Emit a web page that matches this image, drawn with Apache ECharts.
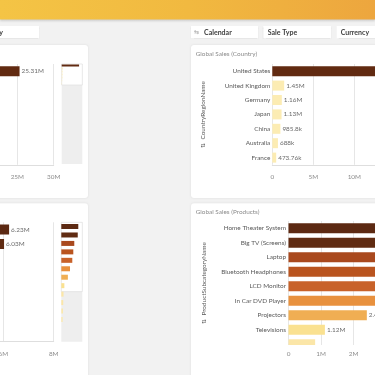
<!DOCTYPE html>
<html>
<head>
<meta charset="utf-8">
<script src="https://cdn.jsdelivr.net/npm/echarts@6/dist/echarts.min.js"></script>
<style>
html,body{margin:0;padding:0;background:#f2f2f2}
#chart{width:375px;height:375px}
</style>
</head>
<body>
<div id="chart"></div>
<script>
// data
var countries = ['United States', 'United Kingdom', 'Germany', 'Japan', 'China', 'Australia', 'France'];
var countrySales = [25310000, 1450000, 1160000, 1130000, 985800, 688000, 473760];
var products = ['Home Theater System', 'Big TV (Screens)', 'Laptop', 'Bluetooth Headphones', 'LCD Monitor',
    'In Car DVD Player', 'Projectors', 'Televisions', 'Camcorders', 'Digital Cameras', 'Desktops', 'Smart phones & PDAs'];
var productSales = [6230000, 6030000, 4760000, 4400000, 4030000, 3180000, 2410000, 1120000, 820000, 700000, 620000, 500000];
var filters = ['Calendar', 'Sale Type', 'Currency'];

// colours (gradient by measure)
var countryColors = ['#612a11', '#fcecb3', '#fcecb3', '#fcecb3', '#fcecb3', '#fcecb3', '#fcecb3'];
var productColors = ['#5c2912', '#602b12', '#a9491e', '#b9541f', '#c8622a', '#e8913e', '#f0ae53',
    '#fae190', '#fbe6a8', '#fbe6a8', '#fbe8ad', '#fbe8ad'];

var FONT = 'Lato, sans-serif';

function shortNum(v) {
    if (v >= 1e6) return parseFloat((v / 1e6).toFixed(2)) + 'M';
    if (v >= 1e3) return parseFloat((v / 1e3).toFixed(2)) + 'k';
    return String(v);
}
function tickFmt(v) {
    return v === 0 ? '0' : (v / 1e6) + 'M';
}

var gridLine = {show: true, lineStyle: {color: '#e6e6e6', width: 1}};
var axisText = {color: '#8c8c8c', fontSize: 6.4, fontFamily: FONT, formatter: tickFmt};
var noLine = {show: false};

function valueLabel(hideFrom) {
    return {
        show: true, position: 'right', distance: 2,
        color: '#6b6b6b', fontSize: 6.4, fontFamily: FONT,
        formatter: function (p) {
            if (hideFrom !== undefined && p.dataIndex >= hideFrom) return '';
            return shortNum(p.value);
        }
    };
}
function colorBy(list) {
    return function (p) { return list[p.dataIndex]; };
}
function box(g) {
    g.outerBoundsMode = 'none';
    g.containLabel = false;
    return g;
}

var chart = echarts.init(document.getElementById('chart'));

var graphics = [
    // header band
    {type: 'rect', z: 0, shape: {x: 0, y: 0, width: 375, height: 19.5},
        style: {fill: {type: 'linear', x: 0, y: 0, x2: 1, y2: 0,
            colorStops: [{offset: 0, color: '#f4c445'}, {offset: 0.5, color: '#f1b940'}, {offset: 1, color: '#eda63e'}]},
            shadowBlur: 2, shadowColor: 'rgba(0,0,0,0.15)', shadowOffsetY: 1}},
    // filter boxes
    {type: 'rect', z: 0, shape: {x: -10, y: 26, width: 49, height: 12.5},
        style: {fill: '#fff', shadowBlur: 1, shadowOffsetY: 0.5, shadowColor: 'rgba(0,0,0,0.15)'}},
    {type: 'text', z: 0, style: {x: 3, y: 32.3, text: 'Country', align: 'right', verticalAlign: 'middle',
        fill: '#404040', font: 'bold 7px ' + FONT}},
    {type: 'rect', z: 0, shape: {x: 191, y: 26, width: 67, height: 12.5},
        style: {fill: '#fff', shadowBlur: 1, shadowOffsetY: 0.5, shadowColor: 'rgba(0,0,0,0.15)'}},
    {type: 'text', z: 0, style: {x: 194, y: 32.3, text: '⇆', verticalAlign: 'middle', fill: '#a0a0a0', font: '6px DejaVu Sans'}},
    {type: 'text', z: 0, style: {x: 204, y: 32.3, text: filters[0], verticalAlign: 'middle', fill: '#404040', font: 'bold 7px ' + FONT}},
    {type: 'rect', z: 0, shape: {x: 263.3, y: 26, width: 67.7, height: 12.5},
        style: {fill: '#fff', shadowBlur: 1, shadowOffsetY: 0.5, shadowColor: 'rgba(0,0,0,0.15)'}},
    {type: 'text', z: 0, style: {x: 267.7, y: 32.3, text: filters[1], verticalAlign: 'middle', fill: '#404040', font: 'bold 7px ' + FONT}},
    {type: 'rect', z: 0, shape: {x: 336.7, y: 26, width: 50, height: 12.5},
        style: {fill: '#fff', shadowBlur: 1, shadowOffsetY: 0.5, shadowColor: 'rgba(0,0,0,0.15)'}},
    {type: 'text', z: 0, style: {x: 340.7, y: 32.3, text: filters[2], verticalAlign: 'middle', fill: '#404040', font: 'bold 7px ' + FONT}},
    // panels
    {type: 'rect', z: 0, shape: {x: -6, y: 45, width: 94, height: 153, r: 3},
        style: {fill: '#fff', shadowBlur: 2, shadowColor: 'rgba(0,0,0,0.1)'}},
    {type: 'rect', z: 0, shape: {x: -6, y: 203.3, width: 94, height: 180, r: 3},
        style: {fill: '#fff', shadowBlur: 2, shadowColor: 'rgba(0,0,0,0.1)'}},
    {type: 'rect', z: 0, shape: {x: 191, y: 45, width: 200, height: 153, r: 3},
        style: {fill: '#fff', shadowBlur: 2, shadowColor: 'rgba(0,0,0,0.1)'}},
    {type: 'rect', z: 0, shape: {x: 191, y: 203.3, width: 200, height: 180, r: 3},
        style: {fill: '#fff', shadowBlur: 2, shadowColor: 'rgba(0,0,0,0.1)'}},
    // mini chart tracks
    {type: 'rect', z: 0, shape: {x: 61.7, y: 64, width: 20.6, height: 100}, style: {fill: '#eeeeee'}},
    {type: 'rect', z: 0, shape: {x: 61.3, y: 222.3, width: 21, height: 119.4}, style: {fill: '#eeeeee'}},
    {type: 'rect', z: 0, shape: {x: 61.3, y: 222.3, width: 21, height: 69.3},
        style: {fill: '#fff', stroke: '#dcdcdc', lineWidth: 0.6}},
    // covers for the scrolled-out part of the product charts
    {type: 'rect', z: 5, shape: {x: 0, y: 341.6, width: 58, height: 40}, style: {fill: '#fff'}},
    {type: 'rect', z: 5, shape: {x: 191, y: 345, width: 190, height: 40}, style: {fill: '#fff'}}
];

var option = {
    backgroundColor: '#f2f2f2',
    animation: false,
    title: [
        {text: 'Global Sales (Country)', left: 195.7, top: 51, padding: 0,
            textStyle: {fontSize: 6.4, fontWeight: 'normal', color: '#8a8a8a', fontFamily: FONT}},
        {text: 'Global Sales (Products)', left: 195.7, top: 208.5, padding: 0,
            textStyle: {fontSize: 6.4, fontWeight: 'normal', color: '#8a8a8a', fontFamily: FONT}}
    ],
    graphic: graphics,
    grid: [
        box({left: -164.7, top: 64, width: 218.4, height: 100.8}),            // 0 country (scrolled)
        box({left: 61.7, top: 64, width: 20.6, height: 21, show: true, z: 1,
            backgroundColor: '#fff', borderColor: '#dcdcdc', borderWidth: 0.6}), // 1 country mini
        box({left: 272.3, top: 64, width: 246, height: 100.8}),              // 2 country
        box({left: -147.9, top: 222.3, width: 201.6, height: 174}),          // 3 products (scrolled)
        box({left: -147.9, top: 222.3, width: 201.6, height: 118.8}),        // 4 its axis
        box({left: 61.3, top: 222.3, width: 21, height: 101.4}),             // 5 products mini
        box({left: 288.5, top: 221, width: 260, height: 174}),               // 6 products
        box({left: 288.5, top: 221, width: 260, height: 124})                // 7 its axis
    ],
    xAxis: [
        {type: 'value', gridIndex: 0, min: 0, max: 30e6, interval: 5e6, z: 1,
            axisLine: {show: true, lineStyle: {color: '#dedede'}}, axisTick: noLine,
            axisLabel: Object.assign({margin: 9}, axisText), splitLine: gridLine},
        {type: 'value', gridIndex: 1, min: 0, max: 30e6, show: false},
        {type: 'value', gridIndex: 2, min: 0, max: 30e6, interval: 5e6, z: 1,
            axisLine: {show: true, lineStyle: {color: '#dedede'}}, axisTick: noLine,
            axisLabel: Object.assign({margin: 9}, axisText), splitLine: gridLine},
        {type: 'value', gridIndex: 3, min: 0, max: 8e6, interval: 2e6, z: 1,
            axisLine: noLine, axisTick: noLine, axisLabel: {show: false}, splitLine: gridLine},
        {type: 'value', gridIndex: 4, min: 0, max: 8e6, interval: 2e6, z: 6,
            axisLine: {show: true, lineStyle: {color: '#dedede'}}, axisTick: noLine,
            axisLabel: Object.assign({margin: 10}, axisText), splitLine: {show: false}},
        {type: 'value', gridIndex: 5, min: 0, max: 7.7e6, show: false},
        {type: 'value', gridIndex: 6, min: 0, max: 8e6, interval: 1e6, z: 1,
            axisLine: noLine, axisTick: noLine, axisLabel: {show: false}, splitLine: gridLine},
        {type: 'value', gridIndex: 7, min: 0, max: 8e6, interval: 1e6, z: 6,
            axisLine: {show: false}, axisTick: noLine,
            axisLabel: Object.assign({margin: 6}, axisText), splitLine: {show: false}}
    ],
    yAxis: [
        {type: 'category', gridIndex: 0, data: countries, inverse: true, z: 1,
            axisLine: noLine, axisTick: noLine, axisLabel: {show: false}},
        {type: 'category', gridIndex: 1, data: countries, inverse: true, show: false},
        {type: 'category', gridIndex: 2, data: countries, inverse: true, z: 1,
            axisLine: noLine, axisTick: noLine,
            axisLabel: {margin: 2, color: '#595959', fontSize: 6.4, fontFamily: FONT},
            name: '⇅  CountryRegionName', nameLocation: 'middle', nameGap: 66,
            nameTextStyle: {color: '#595959', fontSize: 6.4, fontFamily: FONT}},
        {type: 'category', gridIndex: 3, data: products, inverse: true, z: 1,
            axisLine: noLine, axisTick: noLine, axisLabel: {show: false}},
        {type: 'value', gridIndex: 4, min: 0, max: 1, show: false},
        {type: 'category', gridIndex: 5, data: products, inverse: true, show: false},
        {type: 'category', gridIndex: 6, data: products, inverse: true, z: 1,
            axisLine: noLine, axisTick: noLine,
            axisLabel: {margin: 2.5, color: '#595959', fontSize: 6.4, fontFamily: FONT,
                interval: function (idx) { return idx < 8; }}},
        {type: 'value', gridIndex: 7, min: 0, max: 1, z: 1,
            axisLine: noLine, axisTick: noLine, axisLabel: {show: false}, splitLine: {show: false},
            name: '⇅  ProductSubcategoryName', nameLocation: 'middle', nameGap: 82,
            nameTextStyle: {color: '#595959', fontSize: 6.4, fontFamily: FONT}}
    ],
    series: [
        {type: 'bar', xAxisIndex: 0, yAxisIndex: 0, data: countrySales, barWidth: 10,
            itemStyle: {color: colorBy(countryColors)}, label: valueLabel()},
        {type: 'bar', xAxisIndex: 1, yAxisIndex: 1, data: countrySales, barWidth: 2,
            itemStyle: {color: colorBy(countryColors)}},
        {type: 'bar', xAxisIndex: 2, yAxisIndex: 2, data: countrySales, barWidth: 10,
            itemStyle: {color: colorBy(countryColors)}, label: valueLabel()},
        {type: 'bar', xAxisIndex: 3, yAxisIndex: 3, data: productSales, barWidth: 10,
            itemStyle: {color: colorBy(productColors)}, label: valueLabel()},
        {type: 'bar', xAxisIndex: 5, yAxisIndex: 5, data: productSales, barWidth: 5,
            itemStyle: {color: colorBy(productColors)}},
        {type: 'bar', xAxisIndex: 6, yAxisIndex: 6, data: productSales, barWidth: 10,
            itemStyle: {color: colorBy(productColors)}, label: valueLabel(8)}
    ]
};

chart.setOption(option);
</script>
</body>
</html>
